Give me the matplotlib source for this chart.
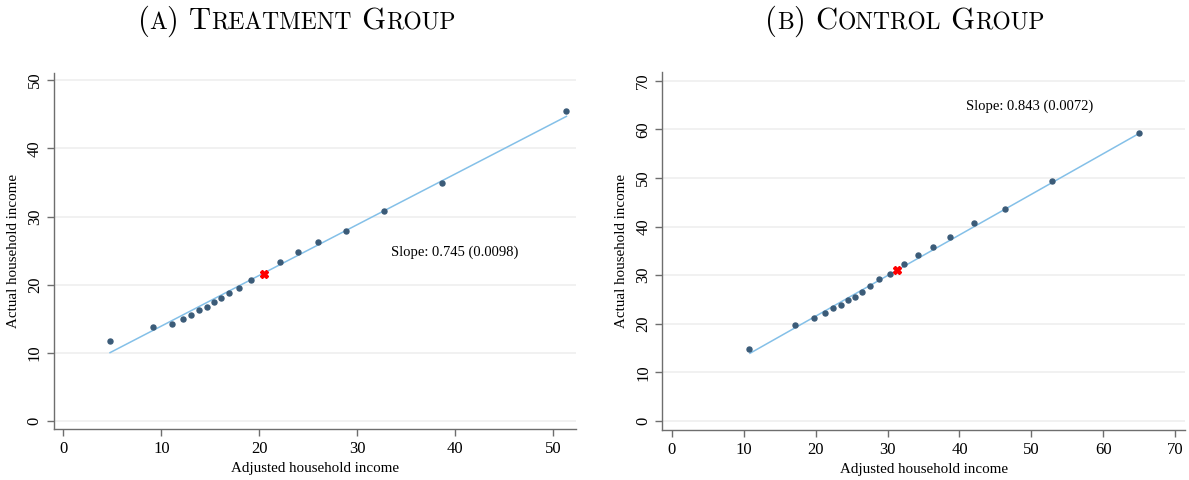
import matplotlib
matplotlib.use("Agg")
import matplotlib.pyplot as plt
from matplotlib.offsetbox import TextArea, HPacker, AnnotationBbox

plt.rcParams['font.family'] = ['Liberation Serif', 'DejaVu Serif']

# binned means, treatment group
treat_x = [4.77, 9.12, 11.06, 12.18, 13.03, 13.85, 14.63, 15.38, 16.12, 16.94,
           17.93, 19.12, 22.11, 23.92, 26.02, 28.88, 32.76, 38.67, 51.33]
treat_y = [11.75, 13.76, 14.19, 14.98, 15.52, 16.25, 16.79, 17.47, 18.01, 18.80,
           19.53, 20.75, 23.35, 24.77, 26.24, 27.85, 30.84, 34.90, 45.42]
treat_mean = [20.45, 21.63]
treat_fit_x = [4.77, 51.33]
treat_fit_y = [10.03, 44.69]

# binned means, control group
ctrl_x = [10.79, 17.14, 19.74, 21.27, 22.47, 23.53, 24.51, 25.44, 26.41, 27.56,
          28.82, 30.39, 32.25, 34.24, 36.28, 38.73, 42.02, 46.37, 52.86, 64.92]
ctrl_y = [14.81, 19.75, 21.26, 22.22, 23.25, 23.87, 24.90, 25.58, 26.61, 27.71,
          29.15, 30.31, 32.24, 34.09, 35.80, 37.80, 40.68, 43.62, 49.32, 59.26]
ctrl_mean = [31.28, 31.07]
ctrl_fit_x = [10.88, 64.92]
ctrl_fit_y = [13.93, 59.12]

dot_color = '#3b5b78'
line_color = '#84c0e8'
axis_color = '#6e6e6e'


def small_caps_title(fig, xy, parts):
    boxes = []
    for s, small in parts:
        boxes.append(TextArea(s, textprops=dict(family='cmr10', size=17 if small else 22,
                                                color='black')))
    pack = HPacker(children=boxes, align='baseline', pad=0, sep=0)
    ab = AnnotationBbox(pack, xy, xycoords='figure pixels', frameon=False,
                        box_alignment=(0.5, 0.5))
    fig.add_artist(ab)


def panel(ax, x, y, mean, fit_x, fit_y, lim, xlim, ylim, slope_txt, slope_xy):
    ax.plot(fit_x, fit_y, color=line_color, lw=1.1, zorder=2)
    ax.plot(x, y, 'o', color=dot_color, ms=3.6, zorder=3)
    ax.plot(mean[0], mean[1], 'X', color='red', ms=5.5, zorder=4)
    ax.text(slope_xy[0], slope_xy[1], slope_txt, fontsize=10.5, va='center', ha='left')
    ticks = list(range(0, lim + 1, 10))
    ax.set_xticks(ticks)
    ax.set_yticks(ticks)
    ax.set_xlim(xlim)
    ax.set_ylim(ylim)
    ax.grid(axis='y', color='#efefef', lw=1.2)
    ax.set_axisbelow(True)
    for s in ['top', 'right']:
        ax.spines[s].set_visible(False)
    for s in ['left', 'bottom']:
        ax.spines[s].set_color(axis_color)
        ax.spines[s].set_linewidth(1.0)
    ax.tick_params(direction='out', length=5, width=1, color=axis_color, labelsize=12)
    ax.tick_params(axis='x', pad=4)
    ax.tick_params(axis='y', pad=3)
    for lab in ax.get_yticklabels():
        lab.set_rotation(90)
        lab.set_va('center')
    ax.set_xlabel('Adjusted household income', fontsize=10.8, labelpad=3)
    ax.set_ylabel('Actual household income', fontsize=10.8, labelpad=5)


fig = plt.figure(figsize=(11.89, 4.8), dpi=100)
ax1 = fig.add_axes([0.0454, 0.1063, 0.4390, 0.7423])
ax2 = fig.add_axes([0.5570, 0.1042, 0.4396, 0.7452])

panel(ax1, treat_x, treat_y, treat_mean, treat_fit_x, treat_fit_y, 50,
      (-0.95, 52.3), (-1.17, 51.1), 'Slope: 0.745 (0.0098)', (33.4, 24.8))
panel(ax2, ctrl_x, ctrl_y, ctrl_mean, ctrl_fit_x, ctrl_fit_y, 70,
      (-1.31, 71.35), (-1.85, 71.75), 'Slope: 0.843 (0.0072)', (40.9, 64.7))

small_caps_title(fig, (296.7, 458.5),
                 [('(', False), ('A', True), (') T', False), ('REATMENT', True),
                  (' G', False), ('ROUP', True)])
small_caps_title(fig, (905, 458.5),
                 [('(', False), ('B', True), (') C', False), ('ONTROL', True),
                  (' G', False), ('ROUP', True)])

fig.savefig('out.png', dpi=100)
